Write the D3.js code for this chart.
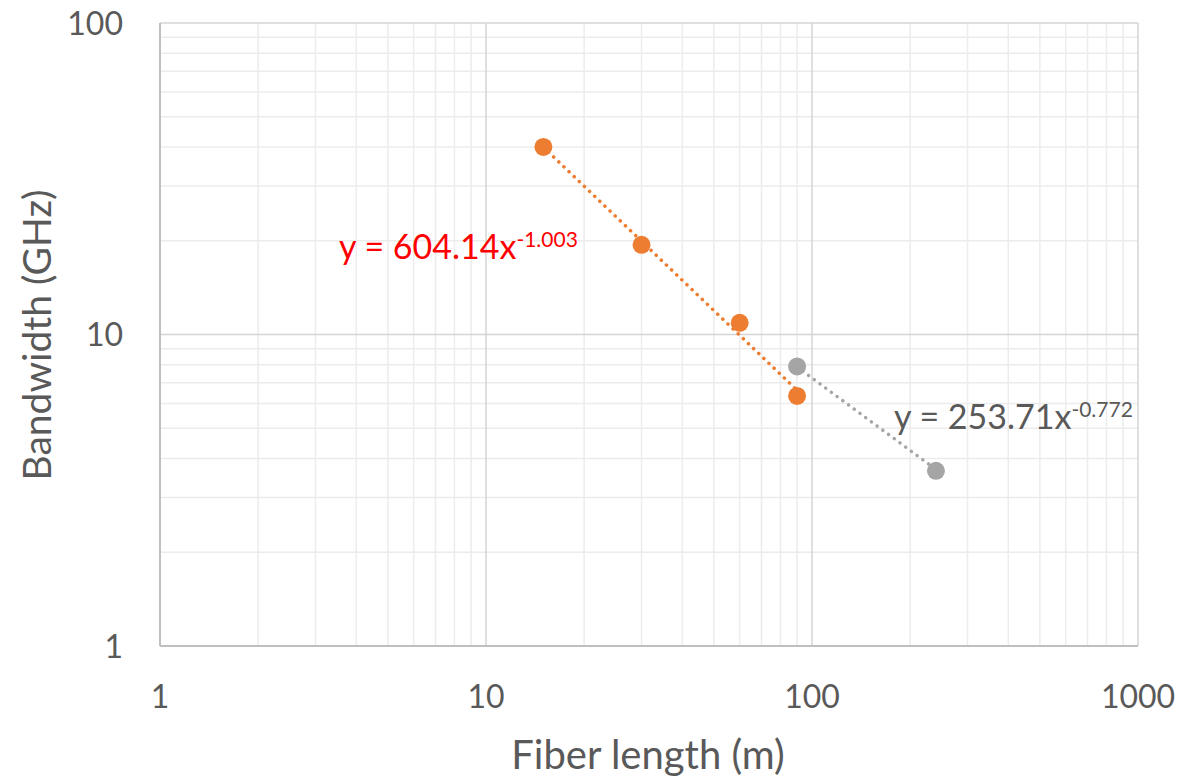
<!DOCTYPE html>
<html><head><meta charset="utf-8">
<script src="https://cdn.jsdelivr.net/npm/d3@7"></script>
<style>html,body{margin:0;padding:0;background:#fff;}svg{display:block;font-family:Lato,"Open Sans",sans-serif;}</style>
</head><body>
<svg id="c" width="1179" height="778"></svg>
<script>
// Data
const orangeX = [15, 30, 60, 90];
const orangeY = [40, 19.4, 10.9, 6.35];
const grayX = [90, 240];
const grayY = [7.9, 3.65];
const orangeFit = [604.14, -1.003];
const grayFit = [253.71, -0.772];
const xTicks = [1, 10, 100, 1000];
const yTicks = [1, 10, 100];
const orangeLabel = ["y = 604.14x", "-1.003"];
const grayLabel = ["y = 253.71x", "-0.772"];
const xTitle = "Fiber length (m)";
const yTitle = "Bandwidth (GHz)";

const svg = d3.select("#c");
const L = 160, R = 1138, T = 23, B = 646;
const x = d3.scaleLog().domain([1, 1000]).range([L, R]);
const y = d3.scaleLog().domain([1, 100]).range([B, T]);

// minor ticks
const minor = [];
for (let d = 1; d < 1000; d *= 10) for (let k = 2; k <= 9; k++) minor.push(d * k);
const minorY = minor.filter(v => v < 100);

const g = svg.append("g");
g.selectAll(".vmin").data(minor).enter().append("line")
  .attr("x1", d => x(d)).attr("x2", d => x(d)).attr("y1", T).attr("y2", B)
  .attr("stroke", "#ececec").attr("stroke-width", 1.5);
g.selectAll(".hmin").data(minorY).enter().append("line")
  .attr("y1", d => y(d)).attr("y2", d => y(d)).attr("x1", L).attr("x2", R)
  .attr("stroke", "#ececec").attr("stroke-width", 1.5);
g.selectAll(".vmaj").data(xTicks).enter().append("line")
  .attr("x1", d => x(d)).attr("x2", d => x(d)).attr("y1", T).attr("y2", B)
  .attr("stroke", "#d4d4d4").attr("stroke-width", 1.5);
g.selectAll(".hmaj").data(yTicks).enter().append("line")
  .attr("y1", d => y(d)).attr("y2", d => y(d)).attr("x1", L).attr("x2", R)
  .attr("stroke", "#d4d4d4").attr("stroke-width", 1.5);
// axis lines
g.append("line").attr("x1", L).attr("x2", L).attr("y1", T).attr("y2", B).attr("stroke", "#bfbfbf").attr("stroke-width", 2);
g.append("line").attr("x1", L).attr("x2", R).attr("y1", B).attr("y2", B).attr("stroke", "#bfbfbf").attr("stroke-width", 2);

// tick labels
svg.selectAll(".xt").data(xTicks).enter().append("text")
  .attr("x", d => x(d)).attr("y", 695).attr("text-anchor", "middle").attr("dominant-baseline", "central")
  .attr("font-size", 32).attr("fill", "#595959").text(d => d);
svg.selectAll(".yt").data(yTicks).enter().append("text")
  .attr("x", 123).attr("y", d => y(d) - 1).attr("text-anchor", "end").attr("dominant-baseline", "central")
  .attr("font-size", 32).attr("fill", "#595959").text(d => d);

// titles
svg.append("text").attr("x", 648).attr("y", 754).attr("text-anchor", "middle").attr("dominant-baseline", "central")
  .attr("font-size", 40).attr("fill", "#595959").text(xTitle);
svg.append("text").attr("transform", "translate(36,335) rotate(-90)")
  .attr("text-anchor", "middle").attr("dominant-baseline", "central")
  .attr("font-size", 39).attr("fill", "#595959").text(yTitle);

// trendlines
function trend(xs, fit, color) {
  const ext = d3.extent(xs);
  const pts = d3.range(0, 21).map(i => {
    const xv = Math.exp(Math.log(ext[0]) + (Math.log(ext[1]) - Math.log(ext[0])) * i / 20);
    return [xv, fit[0] * Math.pow(xv, fit[1])];
  });
  svg.append("path").attr("d", d3.line().x(d => x(d[0])).y(d => y(d[1]))(pts))
    .attr("fill", "none").attr("stroke", color).attr("stroke-width", 3.5)
    .attr("stroke-linecap", "round").attr("stroke-dasharray", "0.1 7");
}
trend(grayX, grayFit, "#a5a5a5");
trend(orangeX, orangeFit, "#ed7d31");

svg.selectAll(".pg").data(grayX.map((v, i) => [v, grayY[i]])).enter().append("circle")
  .attr("cx", d => x(d[0])).attr("cy", d => y(d[1])).attr("r", 9).attr("fill", "#a5a5a5");
svg.selectAll(".po").data(orangeX.map((v, i) => [v, orangeY[i]])).enter().append("circle")
  .attr("cx", d => x(d[0])).attr("cy", d => y(d[1])).attr("r", 9).attr("fill", "#ed7d31");

// equation labels
function eq(lbl, px, py, color) {
  const t = svg.append("text").attr("x", px).attr("y", py).attr("font-size", 34).attr("fill", color);
  t.append("tspan").text(lbl[0]);
  t.append("tspan").attr("font-size", 21).attr("dy", -12).text(lbl[1]);
}
eq(orangeLabel, 339, 259, "#ff0000");
eq(grayLabel, 894, 429, "#595959");
</script>
</body></html>
